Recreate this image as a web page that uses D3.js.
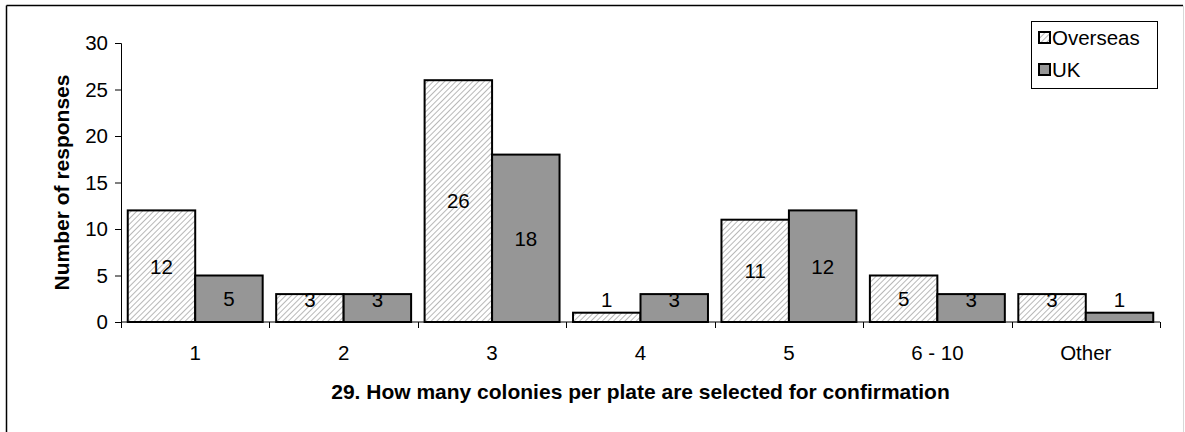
<!DOCTYPE html>
<html>
<head>
<meta charset="utf-8">
<script src="https://cdn.jsdelivr.net/npm/d3@7/dist/d3.min.js"></script>
<style>
  html, body { margin: 0; padding: 0; background: #fff; }
  svg { display: block; }
  text { font-family: Arial, "Liberation Sans", sans-serif; }
</style>
</head>
<body>
<svg id="chart" width="1185" height="432"></svg>
<script>
// Responses per category
const categories = ["1", "2", "3", "4", "5", "6 - 10", "Other"];
const overseas = [12, 3, 26, 1, 11, 5, 3];
const uk = [5, 3, 18, 3, 12, 3, 1];
const seriesNames = ["Overseas", "UK"];
const yTicks = [0, 5, 10, 15, 20, 25, 30];

const FONT = 20.5;
const svg = d3.select("#chart");
const W = 1185, H = 432;

// Hatched fill for the Overseas series
const defs = svg.append("defs");
const pat = defs.append("pattern")
  .attr("id", "hatch")
  .attr("patternUnits", "userSpaceOnUse")
  .attr("width", 4).attr("height", 4)
  .attr("patternTransform", "rotate(45)");
pat.append("rect").attr("width", 4).attr("height", 4).attr("fill", "#ffffff");
pat.append("line").attr("x1", 0).attr("y1", 0).attr("x2", 0).attr("y2", 4)
  .attr("stroke", "#a0a0a0").attr("stroke-width", 1.5);

const fills = { Overseas: "url(#hatch)", UK: "#969696" };

// Outer frame
svg.append("line").attr("x1", 6.5).attr("y1", 5.5).attr("x2", 1183).attr("y2", 5.5)
  .attr("stroke", "#000").attr("stroke-width", 1.5);
svg.append("line").attr("x1", 6.5).attr("y1", 5.5).attr("x2", 6.5).attr("y2", H)
  .attr("stroke", "#000").attr("stroke-width", 1.5);
svg.append("line").attr("x1", 1183.5).attr("y1", 5.5).attr("x2", 1183.5).attr("y2", H)
  .attr("stroke", "#d8d8d8").attr("stroke-width", 1);

const plot = { left: 121, right: 1160, top: 43, bottom: 322 };

const x0 = d3.scaleBand().domain(categories).range([plot.left, plot.right]).paddingInner(0).paddingOuter(0);
const x1 = d3.scaleBand().domain(seriesNames).range([0, x0.bandwidth()]).paddingInner(0).paddingOuter(0.1);
const y = d3.scaleLinear().domain([0, 30]).range([plot.bottom, plot.top]);

// Y axis
const yAxis = d3.axisLeft(y).tickValues(yTicks).tickSize(6).tickPadding(7);
const gy = svg.append("g").attr("transform", `translate(${plot.left},0)`).call(yAxis)
  .attr("font-size", FONT).attr("font-family", "Arial, 'Liberation Sans', sans-serif");
gy.select(".domain").attr("stroke", "#000");
gy.selectAll(".tick line").attr("stroke", "#000");
gy.selectAll(".tick text").attr("fill", "#000");

// X axis: ticks at category boundaries
const gx = svg.append("g").attr("transform", `translate(0,${plot.bottom})`);
gx.append("line").attr("x1", plot.left).attr("x2", plot.right).attr("stroke", "#000");
const bounds = categories.map(c => x0(c)).concat([x0(categories[categories.length - 1]) + x0.bandwidth()]);
gx.selectAll("line.tk").data(bounds).join("line").attr("class", "tk")
  .attr("x1", d => Math.round(d) + 0.5).attr("x2", d => Math.round(d) + 0.5)
  .attr("y1", 0).attr("y2", 6).attr("stroke", "#000");
gx.selectAll("text").data(categories).join("text")
  .attr("x", d => x0(d) + x0.bandwidth() / 2)
  .attr("y", 31)
  .attr("dy", "0.35em")
  .attr("text-anchor", "middle")
  .attr("font-size", FONT)
  .text(d => d);

// Bars
const rows = categories.map((c, i) => ({ cat: c, vals: [
  { key: "Overseas", v: overseas[i] }, { key: "UK", v: uk[i] }] }));

const groups = svg.append("g").selectAll("g").data(rows).join("g")
  .attr("transform", d => `translate(${x0(d.cat)},0)`);

groups.selectAll("rect").data(d => d.vals).join("rect")
  .attr("x", d => x1(d.key))
  .attr("y", d => y(d.v))
  .attr("width", x1.bandwidth())
  .attr("height", d => y(0) - y(d.v))
  .attr("fill", d => fills[d.key])
  .attr("stroke", "#000")
  .attr("stroke-width", 2);

groups.selectAll("text").data(d => d.vals).join("text")
  .attr("x", d => x1(d.key) + x1.bandwidth() / 2)
  .attr("y", d => Math.min((y(d.v) + y(0)) / 2, y(0) - 22))
  .attr("dy", "0.36em")
  .attr("text-anchor", "middle")
  .attr("font-size", FONT)
  .attr("fill", "#000")
  .text(d => d.v);

// Axis titles
svg.append("text")
  .attr("transform", `translate(62,${(plot.top + plot.bottom) / 2}) rotate(-90)`)
  .attr("text-anchor", "middle")
  .attr("dy", "0.35em")
  .attr("font-size", 21).attr("font-weight", "bold")
  .text("Number of responses");

svg.append("text")
  .attr("x", (plot.left + plot.right) / 2)
  .attr("y", 392)
  .attr("dy", "0.35em")
  .attr("text-anchor", "middle")
  .attr("font-size", 21).attr("font-weight", "bold")
  .text("29. How many colonies per plate are selected for confirmation");

// Legend
const lg = svg.append("g");
lg.append("rect").attr("x", 1031.5).attr("y", 21.5).attr("width", 126).attr("height", 67)
  .attr("fill", "#fff").attr("stroke", "#000").attr("stroke-width", 1);
const items = lg.selectAll("g").data(seriesNames).join("g")
  .attr("transform", (d, i) => `translate(1039,${38 + i * 32})`);
items.append("rect").attr("x", 0).attr("y", -6).attr("width", 11).attr("height", 11)
  .attr("fill", d => fills[d]).attr("stroke", "#000").attr("stroke-width", 2);
items.append("text").attr("x", 13).attr("y", 0).attr("dy", "0.36em")
  .attr("font-size", FONT).text(d => d);
</script>
</body>
</html>
